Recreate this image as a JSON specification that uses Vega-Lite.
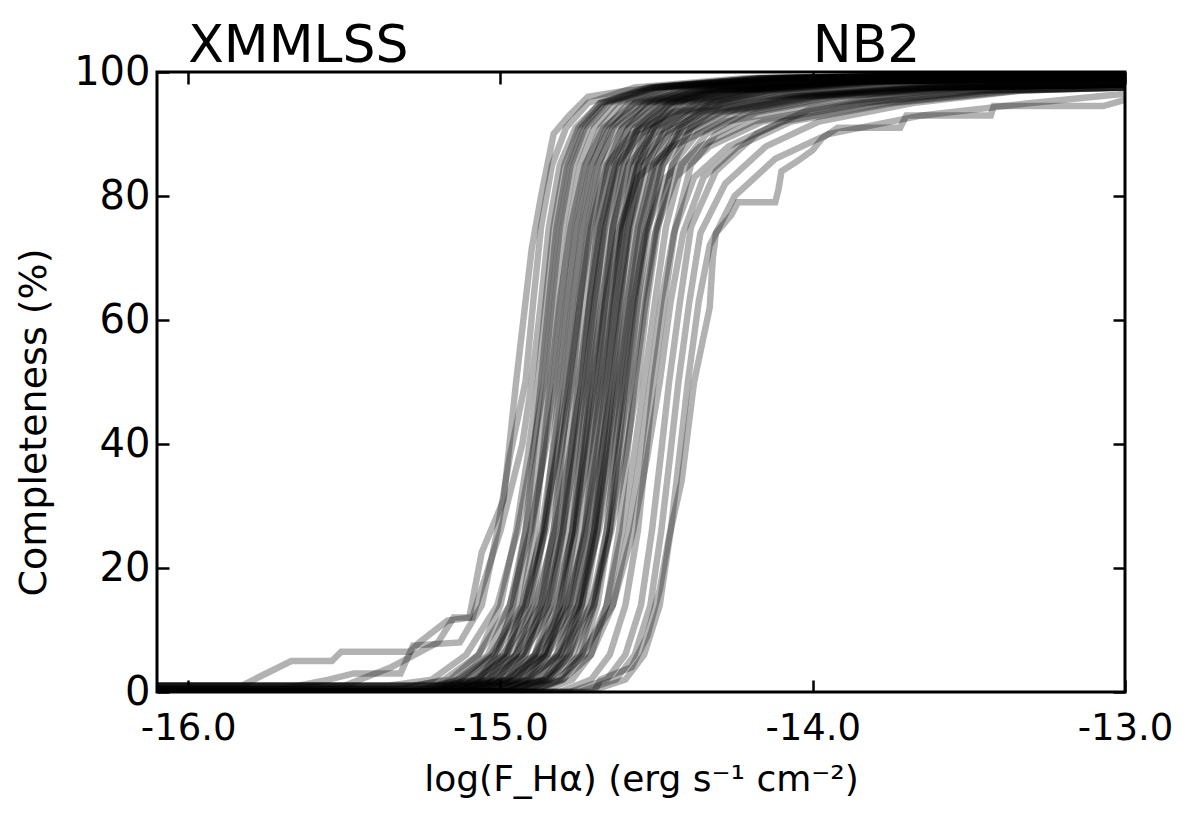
{
  "$schema": "https://vega.github.io/schema/vega-lite/v6.json",
  "width": 968,
  "height": 620,
  "autosize": {"type": "none"},
  "padding": {"left": 157, "top": 72, "right": 65, "bottom": 136},
  "background": "white",
  "config": {
    "view": {"stroke": "black", "strokeWidth": 3},
    "axis": {
      "domain": false, "grid": false, "tickColor": "black", "tickWidth": 2.5, "tickSize": -12,
      "labelColor": "black", "titleColor": "black", "labelFont": "DejaVu Sans", "titleFont": "DejaVu Sans",
      "titleFontWeight": "normal", "labelFlush": false, "labelOverlap": false
    }
  },
  "resolve": {"axis": {"x": "independent", "y": "independent"}},
  "layer": [
    {
      "data": {"values": [
        {"c": 1, "x": [-16.1,-15.83,-15.67,-15.54,-15.51,-15.29,-15.26,-15.17,-15.10,-15.06,-14.99,-14.95,-14.90,-14.87,-14.83,-14.78,-14.72,-14.6,-14.4,-14.0,-13.0], "y": [1,1,5,5,6.5,6.5,8,11.5,12,22.5,31,50,71.5,80,90,93,96,97,98,99,99.5]},
        {"c": 2, "x": [-16.1,-15.70,-15.55,-15.47,-15.32,-15.28,-15.13,-15.06,-15.01,-14.97,-14.92,-14.895,-14.87,-14.835,-14.79,-14.72,-14.57,-14.22,-13.0], "y": [0.5,0.5,2,3,3,7.5,8,14,26,38,50,63,75,85,91,95,97.5,99,100]},
        {"c": 3, "x": [-16.1,-15.5,-15.35,-15.2,-15.15,-15.09,-15.0,-14.93,-14.90,-14.87,-14.845,-14.81,-14.76,-14.68,-14.5,-14.1,-13.0], "y": [1,1,4,8,12,12,26,40,50,63,75,85,91,95,97.5,99,100]},
        {"c": 4, "x": [-16.1,-15.28,-15.16,-15.07,-15.00,-14.95,-14.913,-14.88,-14.855,-14.83,-14.795,-14.75,-14.68,-14.53,-14.18,-13.0], "y": [1,1,2,6,14,26,38,50,63,75,85,91,95,97.5,99,100]},
        {"c": 5, "x": [-16.1,-15.17,-15.07,-15.01,-14.96,-14.92,-14.895,-14.87,-14.845,-14.82,-14.785,-14.74,-14.67,-14.52,-14.17,-13.0], "y": [0,0,2,6,14,26,38,50,63,75,85,91,95,97.5,99,100]},
        {"c": 6, "x": [-16.1,-15.36,-15.22,-15.11,-15.01,-14.945,-14.90,-14.86,-14.835,-14.81,-14.775,-14.73,-14.66,-14.51,-14.16,-13.0], "y": [1,1,2,6,14,26,38,50,63,75,85,91,95,97.5,99,100]},
        {"c": 7, "x": [-16.1,-15.25,-15.13,-15.04,-14.97,-14.92,-14.883,-14.85,-14.825,-14.80,-14.765,-14.72,-14.65,-14.50,-14.15,-13.0], "y": [0,0,2,6,14,26,38,50,63,75,85,91,95,97.5,99,99.5]},
        {"c": 8, "x": [-16.1,-15.14,-15.04,-14.98,-14.93,-14.89,-14.865,-14.84,-14.81,-14.775,-14.73,-14.67,-14.57,-14.39,-13.99,-13.0], "y": [0,0,2,6,14,26,38,50,63,75,85,91,95,97,98.5,99]},
        {"c": 9, "x": [-16.1,-15.23,-15.11,-15.02,-14.95,-14.90,-14.863,-14.83,-14.805,-14.78,-14.745,-14.70,-14.63,-14.48,-14.13,-13.0], "y": [0,0,2,6,14,26,38,50,63,75,85,91,95,97.5,99,100]},
        {"c": 10, "x": [-16.1,-15.32,-15.18,-15.07,-14.97,-14.905,-14.86,-14.82,-14.79,-14.755,-14.71,-14.65,-14.55,-14.37,-13.97,-13.0], "y": [0.5,0.5,2,6,14,26,38,50,63,75,85,91,95,97,98.5,99]},
        {"c": 11, "x": [-16.1,-15.11,-15.01,-14.95,-14.90,-14.86,-14.835,-14.81,-14.785,-14.76,-14.725,-14.68,-14.61,-14.46,-14.11,-13.0], "y": [0,0,2,6,14,26,38,50,63,75,85,91,95,97.5,99,100]},
        {"c": 12, "x": [-16.1,-15.20,-15.08,-14.99,-14.92,-14.87,-14.833,-14.80,-14.77,-14.735,-14.69,-14.63,-14.53,-14.35,-13.95,-13.0], "y": [0,0,2,6,14,26,38,50,63,75,85,91,95,97,98.5,99]},
        {"c": 13, "x": [-16.1,-15.19,-15.07,-14.98,-14.91,-14.86,-14.823,-14.79,-14.765,-14.74,-14.705,-14.66,-14.59,-14.44,-14.09,-13.0], "y": [1,1,2,6,14,26,38,50,63,75,85,91,95,97.5,99,100]},
        {"c": 14, "x": [-16.1,-15.08,-14.98,-14.92,-14.87,-14.83,-14.805,-14.78,-14.75,-14.715,-14.67,-14.61,-14.51,-14.33,-13.93,-13.0], "y": [0,0,2,6,14,26,38,50,63,75,85,91,95,97,98.5,99]},
        {"c": 15, "x": [-16.1,-15.28,-15.14,-15.03,-14.93,-14.865,-14.82,-14.78,-14.745,-14.71,-14.66,-14.58,-14.45,-14.18,-13.78,-13.0], "y": [0,0,2,6,14,26,38,50,63,75,85,90,93.5,96,97.5,98]},
        {"c": 16, "x": [-16.1,-15.27,-15.13,-15.02,-14.92,-14.855,-14.81,-14.77,-14.745,-14.72,-14.685,-14.64,-14.57,-14.42,-14.07,-13.0], "y": [0,0,2,6,14,26,38,50,63,75,85,91,95,97.5,99,100]},
        {"c": 17, "x": [-16.1,-15.16,-15.04,-14.95,-14.88,-14.83,-14.793,-14.76,-14.73,-14.695,-14.65,-14.59,-14.49,-14.31,-13.91,-13.0], "y": [0,0,2,6,14,26,38,50,63,75,85,91,95,97,98.5,99]},
        {"c": 18, "x": [-16.1,-15.05,-14.95,-14.89,-14.84,-14.80,-14.775,-14.75,-14.715,-14.68,-14.63,-14.55,-14.42,-14.15,-13.75,-13.0], "y": [0,0,2,6,14,26,38,50,63,75,85,90,93.5,96,97.5,98]},
        {"c": 19, "x": [-16.1,-15.14,-15.02,-14.93,-14.86,-14.81,-14.773,-14.74,-14.715,-14.69,-14.655,-14.61,-14.54,-14.39,-14.04,-13.0], "y": [0,0,2,6,14,26,38,50,63,75,85,91,95,97.5,99,100]},
        {"c": 20, "x": [-16.1,-15.24,-15.10,-14.99,-14.89,-14.825,-14.78,-14.74,-14.71,-14.675,-14.63,-14.57,-14.47,-14.29,-13.89,-13.0], "y": [0,0,2,6,14,26,38,50,63,75,85,91,95,97,98.5,99]},
        {"c": 21, "x": [-16.1,-15.13,-15.01,-14.92,-14.85,-14.80,-14.763,-14.73,-14.70,-14.665,-14.62,-14.56,-14.46,-14.28,-13.88,-13.0], "y": [0.5,0.5,2,6,14,26,38,50,63,75,85,91,95,97,98.5,99]},
        {"c": 22, "x": [-16.1,-15.22,-15.08,-14.97,-14.87,-14.805,-14.76,-14.72,-14.69,-14.655,-14.61,-14.55,-14.45,-14.27,-13.87,-13.0], "y": [0,0,2,6,14,26,38,50,63,75,85,91,95,97,98.5,99]},
        {"c": 23, "x": [-16.1,-15.02,-14.92,-14.86,-14.81,-14.77,-14.745,-14.72,-14.695,-14.67,-14.635,-14.59,-14.52,-14.37,-14.02,-13.0], "y": [0,0,2,6,14,26,38,50,63,75,85,91,95,97.5,99,100]},
        {"c": 24, "x": [-16.1,-15.01,-14.91,-14.85,-14.80,-14.76,-14.735,-14.71,-14.675,-14.64,-14.59,-14.51,-14.38,-14.11,-13.71,-13.0], "y": [0,0,2,6,14,26,38,50,63,75,85,90,93.5,96,97.5,98]},
        {"c": 25, "x": [-16.1,-15.10,-14.98,-14.89,-14.82,-14.77,-14.733,-14.70,-14.67,-14.635,-14.59,-14.53,-14.43,-14.25,-13.85,-13.0], "y": [0,0,2,6,14,26,38,50,63,75,85,91,95,97,98.5,99]},
        {"c": 26, "x": [-16.1,-15.20,-15.06,-14.95,-14.85,-14.785,-14.74,-14.70,-14.665,-14.625,-14.56,-14.45,-14.28,-13.95,-13.55,-13.0], "y": [0,0,2,6,14,26,38,50,63,74,83,88,92,95,97,97.5]},
        {"c": 27, "x": [-16.1,-15.09,-14.97,-14.88,-14.81,-14.76,-14.723,-14.69,-14.665,-14.64,-14.605,-14.56,-14.49,-14.34,-13.99,-13.0], "y": [1,1,2,6,14,26,38,50,63,75,85,91,95,97.5,99,100]},
        {"c": 28, "x": [-16.1,-14.98,-14.88,-14.82,-14.77,-14.73,-14.705,-14.68,-14.65,-14.615,-14.57,-14.51,-14.41,-14.23,-13.83,-13.0], "y": [0,0,2,6,14,26,38,50,63,75,85,91,95,97,98.5,99]},
        {"c": 29, "x": [-16.1,-15.18,-15.04,-14.93,-14.83,-14.765,-14.72,-14.68,-14.645,-14.61,-14.56,-14.48,-14.35,-14.08,-13.68,-13.0], "y": [0,0,2,6,14,26,38,50,63,75,85,90,93.5,96,97.5,98]},
        {"c": 30, "x": [-16.1,-15.07,-14.95,-14.86,-14.79,-14.74,-14.703,-14.67,-14.64,-14.605,-14.56,-14.50,-14.40,-14.22,-13.82,-13.0], "y": [0,0,2,6,14,26,38,50,63,75,85,91,95,97,98.5,99]},
        {"c": 31, "x": [-16.1,-15.06,-14.94,-14.85,-14.78,-14.73,-14.693,-14.66,-14.625,-14.59,-14.54,-14.46,-14.33,-14.06,-13.66,-13.0], "y": [0.5,0.5,2,6,14,26,38,50,63,75,85,90,93.5,96,97.5,98]},
        {"c": 32, "x": [-16.1,-14.96,-14.86,-14.80,-14.75,-14.71,-14.685,-14.66,-14.635,-14.61,-14.575,-14.53,-14.46,-14.31,-13.96,-13.0], "y": [0,0,2,6,14,26,38,50,63,75,85,91,95,97.5,99,100]},
        {"c": 33, "x": [-16.1,-14.95,-14.85,-14.79,-14.74,-14.70,-14.675,-14.65,-14.62,-14.585,-14.54,-14.48,-14.38,-14.20,-13.80,-13.0], "y": [1,1,2,6,14,26,38,50,63,75,85,91,95,97,98.5,99]},
        {"c": 34, "x": [-16.1,-15.14,-15.00,-14.89,-14.79,-14.725,-14.68,-14.64,-14.61,-14.575,-14.53,-14.47,-14.37,-14.19,-13.79,-13.0], "y": [0,0,2,6,14,26,38,50,63,75,85,91,95,97,98.5,99]},
        {"c": 35, "x": [-16.1,-14.94,-14.84,-14.78,-14.73,-14.69,-14.665,-14.64,-14.615,-14.59,-14.555,-14.51,-14.44,-14.29,-13.94,-13.0], "y": [0,0,2,6,14,26,38,50,63,75,85,91,95,97.5,99,100]},
        {"c": 36, "x": [-16.1,-15.03,-14.91,-14.82,-14.75,-14.70,-14.663,-14.63,-14.595,-14.56,-14.51,-14.43,-14.30,-14.03,-13.63,-13.0], "y": [0,0,2,6,14,26,38,50,63,75,85,90,93.5,96,97.5,98]},
        {"c": 37, "x": [-16.1,-15.02,-14.90,-14.81,-14.74,-14.69,-14.653,-14.62,-14.59,-14.555,-14.51,-14.45,-14.35,-14.17,-13.77,-13.0], "y": [0,0,2,6,14,26,38,50,63,75,85,91,95,97,98.5,99]},
        {"c": 38, "x": [-16.1,-15.12,-14.98,-14.87,-14.77,-14.705,-14.66,-14.62,-14.585,-14.55,-14.50,-14.42,-14.29,-14.02,-13.62,-13.0], "y": [0,0,2,6,14,26,38,50,63,75,85,90,93.5,96,97.5,98]},
        {"c": 39, "x": [-16.1,-14.91,-14.81,-14.75,-14.70,-14.66,-14.635,-14.61,-14.575,-14.535,-14.47,-14.36,-14.19,-13.86,-13.46,-13.0], "y": [0,0,2,6,14,26,38,50,63,74,83,88,92,95,97,97.5]},
        {"c": 40, "x": [-16.1,-15.10,-14.96,-14.85,-14.75,-14.685,-14.64,-14.60,-14.565,-14.53,-14.48,-14.40,-14.27,-14.00,-13.60,-13.0], "y": [0,0,2,6,14,26,38,50,63,75,85,90,93.5,96,97.5,98]},
        {"c": 41, "x": [-16.1,-14.90,-14.80,-14.74,-14.69,-14.65,-14.625,-14.60,-14.57,-14.535,-14.49,-14.43,-14.33,-14.15,-13.75,-13.0], "y": [0,0,2,6,14,26,38,50,63,75,85,91,95,97,98.5,99]},
        {"c": 42, "x": [-16.1,-14.99,-14.87,-14.78,-14.71,-14.66,-14.623,-14.59,-14.56,-14.525,-14.48,-14.42,-14.32,-14.14,-13.74,-13.0], "y": [0,0,2,6,14,26,38,50,63,75,85,91,95,97,98.5,99]},
        {"c": 43, "x": [-16.1,-14.98,-14.86,-14.77,-14.70,-14.65,-14.613,-14.58,-14.545,-14.505,-14.44,-14.33,-14.16,-13.83,-13.43,-13.0], "y": [0,0,2,6,14,26,38,50,63,74,83,88,92,95,97,97.5]},
        {"c": 44, "x": [-16.1,-14.87,-14.77,-14.71,-14.66,-14.62,-14.595,-14.57,-14.535,-14.50,-14.45,-14.37,-14.24,-13.97,-13.57,-13.0], "y": [0,0,2,6,14,26,38,50,63,75,85,90,93.5,96,97.5,98]},
        {"c": 45, "x": [-16.1,-15.06,-14.92,-14.81,-14.71,-14.645,-14.60,-14.56,-14.53,-14.495,-14.45,-14.39,-14.29,-14.11,-13.71,-13.0], "y": [0,0,2,6,14,26,38,50,63,75,85,91,95,97,98.5,99]},
        {"c": 46, "x": [-16.1,-14.94,-14.82,-14.73,-14.66,-14.61,-14.573,-14.54,-14.505,-14.47,-14.42,-14.34,-14.21,-13.94,-13.54,-13.0], "y": [0,0,2,6,14,26,38,50,63,75,85,90,93.5,96,97.5,98]},
        {"c": 47, "x": [-16.1,-14.92,-14.80,-14.71,-14.64,-14.59,-14.553,-14.52,-14.485,-14.445,-14.38,-14.27,-14.10,-13.77,-13.37,-13.0], "y": [0,0,2,6,14,26,38,50,63,74,83,88,92,95,97,97.5]},
        {"c": 48, "x": [-16.1,-14.81,-14.71,-14.65,-14.60,-14.56,-14.535,-14.51,-14.475,-14.44,-14.39,-14.31,-14.18,-13.91,-13.51,-13.0], "y": [0,0,2,6,14,26,38,50,63,75,85,90,93.5,96,97.5,98]},
        {"c": 49, "x": [-16.1,-14.99,-14.85,-14.74,-14.64,-14.575,-14.53,-14.49,-14.455,-14.415,-14.35,-14.24,-14.07,-13.74,-13.34,-13.0], "y": [0,0,2,6,14,26,38,50,63,74,83,88,92,95,97,97.5]},
        {"c": 50, "x": [-16.1,-14.78,-14.66,-14.60,-14.55,-14.515,-14.487,-14.46,-14.425,-14.39,-14.31,-14.18,-14.01,-13.71,-13.36,-13.0], "y": [0,0,2,6,14,26,38,50,63,75,84,90,94,96.5,98,98.5]},
        {"c": 51, "x": [-16.1,-14.75,-14.63,-14.57,-14.52,-14.485,-14.457,-14.43,-14.395,-14.36,-14.28,-14.15,-13.98,-13.68,-13.33,-13.0], "y": [0,0,2,6,14,26,38,50,63,74,82,88,92,95,97,97.5]},
        {"c": 52, "x": [-16.1,-14.72,-14.60,-14.54,-14.49,-14.455,-14.427,-14.40,-14.365,-14.33,-14.25,-14.12,-13.95,-13.65,-13.30,-13.0], "y": [0,0,2,6,14,26,38,50,63,72,80,86,90,93,95,96.5]},
        {"c": 53, "x": [-16.1,-14.70,-14.68,-14.58,-14.53,-14.49,-14.46,-14.42,-14.38,-14.33,-14.32,-14.31,-14.26,-14.24,-14.12,-14.11,-14.10,-14.05,-14.0,-13.97,-13.92,-13.72,-13.70,-13.43,-13.42,-13.07,-13.0], "y": [0,0,2,4,9,16.5,25,34,50,62,70,74,77,79,79,81,84,85.6,87.4,89.3,91,91,93,93,94.5,94.5,95.5]}
      ]},
      "transform": [{"flatten": ["x", "y"]}],
      "mark": {"type": "line", "stroke": "black", "strokeOpacity": 0.3, "strokeWidth": 6.5, "clip": true, "interpolate": "linear"},
      "encoding": {
        "x": {"field": "x", "type": "quantitative", "scale": {"domain": [-16.1, -13.0], "nice": false, "zero": false},
          "axis": {"orient": "bottom", "values": [-16, -15, -14, -13], "labelExpr": "replace(format(datum.value, '.1f'), '\u2212', '-')",
            "labelFontSize": 37, "labelPadding": 30, "title": "log(F_Hα) (erg s⁻¹ cm⁻²)", "titleFontSize": 36, "titlePadding": 16}},
        "y": {"field": "y", "type": "quantitative", "scale": {"domain": [0, 100], "nice": false},
          "axis": {"orient": "left", "values": [0, 20, 40, 60, 80, 100], "labelFontSize": 40, "labelPadding": 19,
            "title": "Completeness (%)", "titleFontSize": 38, "titlePadding": 20, "titleY": 350}},
        "detail": {"field": "c", "type": "nominal"}
      }
    },
    {
      "data": {"values": [
        {"label": "XMMLSS", "x": -16.0, "y": 100},
        {"label": "NB2", "x": -14.0, "y": 100}
      ]},
      "mark": {"type": "text", "align": "left", "baseline": "alphabetic", "dy": -10, "fontSize": 52, "font": "DejaVu Sans", "color": "black"},
      "encoding": {
        "text": {"field": "label"},
        "x": {"field": "x", "type": "quantitative", "axis": {"orient": "top", "values": [-16, -15, -14, -13], "labels": false, "title": null}},
        "y": {"field": "y", "type": "quantitative", "axis": {"orient": "right", "values": [0, 20, 40, 60, 80, 100], "labels": false, "title": null}}
      }
    }
  ]
}
